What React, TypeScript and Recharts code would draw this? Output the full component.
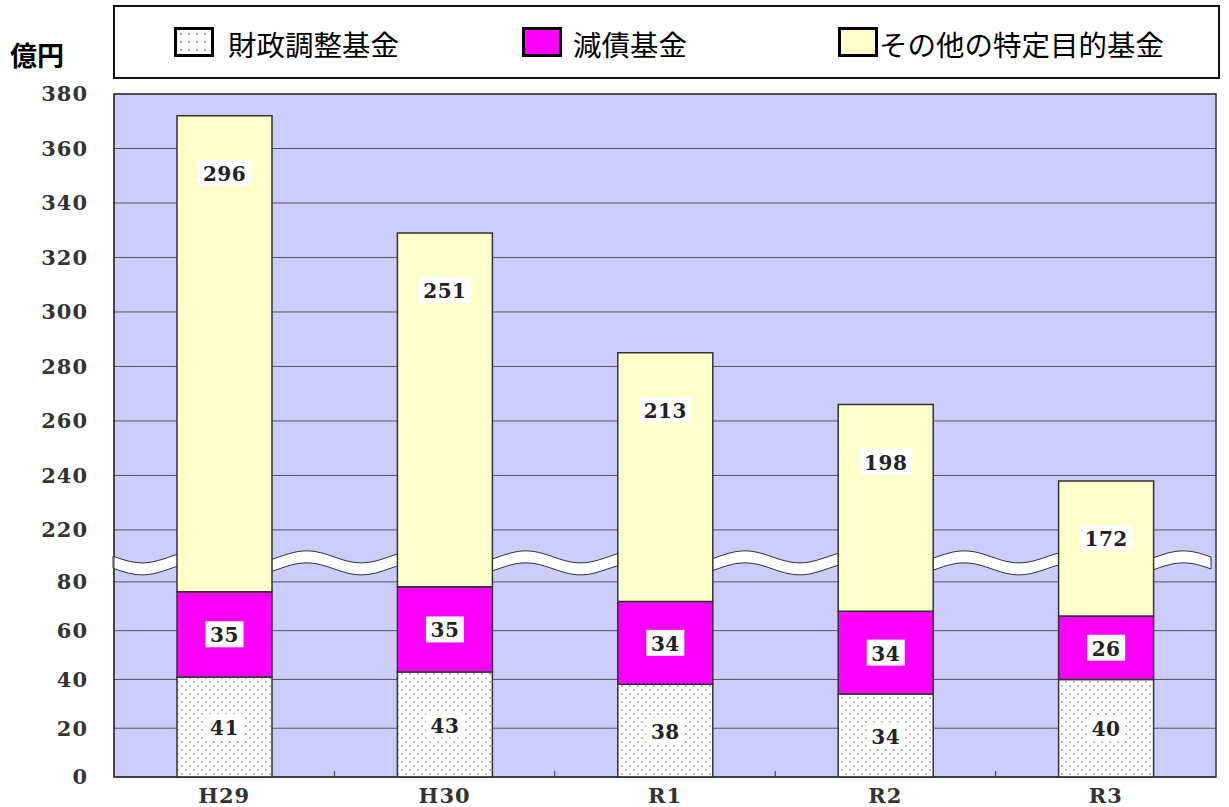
import React from 'react'
import { BarChart, Bar, XAxis, YAxis, CartesianGrid, LabelList, Customized } from 'recharts'

const categories = ['H29', 'H30', 'R1', 'R2', 'R3']
const zaiseiChosei = [41, 43, 38, 34, 40]
const gensai = [35, 35, 34, 34, 26]
const sonotaTokutei = [296, 251, 213, 198, 172]
const seriesNames = ['財政調整基金', '減債基金', 'その他の特定目的基金']
const yTickValues = [0, 20, 40, 60, 80, 220, 240, 260, 280, 300, 320, 340, 360, 380]
const unitLabel = '億円'

// broken axis: 0-80 below the wave, 220-380 above it (upper part drawn a bit taller)
const BREAK_LOW = 80
const BREAK_HIGH = 220
const BREAK_GAP = 21.3
const UPPER_RATIO = 1.117
const toAxis = (v: number) =>
  v <= BREAK_LOW ? v : BREAK_LOW + BREAK_GAP + (v - BREAK_HIGH) * UPPER_RATIO
const AXIS_MAX = toAxis(380)

const W = 1229
const H = 807
const PLOT_LEFT = 114
const PLOT_TOP = 94
const PLOT_RIGHT = 1216
const PLOT_BOTTOM = 777
const PLOT_W = PLOT_RIGHT - PLOT_LEFT
const PLOT_H = PLOT_BOTTOM - PLOT_TOP

const data = categories.map((name, i) => {
  const a = zaiseiChosei[i]
  const b = gensai[i]
  const total = a + b + sonotaTokutei[i]
  return {
    name,
    s1: toAxis(a),
    s2: toAxis(a + b) - toAxis(a),
    s3: toAxis(total) - toAxis(a + b),
    v1: a,
    v2: b,
    v3: sonotaTokutei[i],
  }
})

const numFont = '"DejaVu Serif", serif'
const jpFont = '"Noto Sans CJK JP", "Noto Sans", sans-serif'

const BoxLabel = (props: any) => {
  const { x, y, width, height, value, fromTop } = props
  if (x == null || value == null) return null
  const cx = Number(x) + Number(width) / 2
  const cy = fromTop ? Number(y) + 57 : Number(y) + Number(height) / 2
  const w = String(value).length * 15 + 8
  return (
    <g>
      <rect x={cx - w / 2} y={cy - 13} width={w} height={26} fill="#ffffff" />
      <text
        x={cx}
        y={cy + 1}
        textAnchor="middle"
        dominantBaseline="central"
        fontFamily={numFont}
        fontWeight="bold"
        fontSize={20}
        letterSpacing={0.5}
        fill="#222"
      >
        {value}
      </text>
    </g>
  )
}

const Decor = () => {
  const yOf = (v: number) => PLOT_TOP + PLOT_H * (1 - toAxis(v) / AXIS_MAX)
  const yc = yOf(BREAK_LOW) - 19
  const period = 109.6
  const amp = 6
  const top = (x: number) => yc - 6 - amp * Math.cos((2 * Math.PI * (x - 197)) / period)
  const xs: number[] = []
  for (let x = PLOT_LEFT - 1; x <= PLOT_RIGHT - 3; x += 3) xs.push(x)
  const upper = xs.map((x, i) => `${i === 0 ? 'M' : 'L'}${x},${top(x).toFixed(2)}`).join(' ')
  const lower = xs
    .slice()
    .reverse()
    .map((x) => `L${x},${(top(x) + 12).toFixed(2)}`)
    .join(' ')
  const ticks = [1, 2, 3, 4].map((k) => PLOT_LEFT + (k * PLOT_W) / 5)
  return (
    <g>
      <rect x={PLOT_LEFT} y={PLOT_TOP} width={PLOT_W} height={PLOT_H} fill="none" stroke="#333" strokeWidth={1.5} />
      {ticks.map((tx) => (
        <line key={tx} x1={tx} x2={tx} y1={PLOT_BOTTOM} y2={PLOT_BOTTOM - 6} stroke="#333" />
      ))}
      <path d={`${upper} ${lower} Z`} fill="#ffffff" stroke="#333" strokeWidth={1} />
    </g>
  )
}

const legendItems = [
  { left: 174, textLeft: 228, swatch: 'dots' },
  { left: 522, textLeft: 573, swatch: '#ff00ff' },
  { left: 838, textLeft: 879, swatch: '#ffffcc' },
]

const tickStyle = { fontFamily: numFont, fontWeight: 'bold', fontSize: 21, fill: '#333', letterSpacing: 1 }

export default function App() {
  return (
    <div style={{ position: 'absolute', left: 0, top: 0, width: W, height: H, background: '#fff' }}>
      <BarChart
        width={W}
        height={H}
        data={data}
        margin={{ top: PLOT_TOP, right: W - PLOT_RIGHT, bottom: 0, left: PLOT_LEFT - 60 }}
        barSize={95}
      >
        <defs>
          <pattern id="dots" width="8" height="8" patternUnits="userSpaceOnUse">
            <rect width="8" height="8" fill="#ffffff" />
            <circle cx="2" cy="2" r="0.9" fill="#9a9a9a" />
            <circle cx="6" cy="6" r="0.9" fill="#9a9a9a" />
          </pattern>
        </defs>
        <CartesianGrid vertical={false} stroke="#555" fill="#ccccff" fillOpacity={1} />
        <XAxis
          dataKey="name"
          height={H - PLOT_BOTTOM}
          tickLine={false}
          tickSize={0}
          tickMargin={11}
          axisLine={{ stroke: '#333' }}
          tick={tickStyle}
        />
        <YAxis
          type="number"
          width={60}
          domain={[0, AXIS_MAX]}
          ticks={yTickValues.map(toAxis)}
          interval={0}
          tickLine={false}
          tickSize={0}
          tickMargin={26}
          axisLine={{ stroke: '#333' }}
          tickFormatter={(v: number) => {
            const t = yTickValues.find((tv) => Math.abs(toAxis(tv) - v) < 1e-6)
            return t == null ? '' : String(t)
          }}
          tick={tickStyle}
        />
        <Bar dataKey="s1" stackId="a" fill="url(#dots)" stroke="#333" strokeWidth={1.5} isAnimationActive={false}>
          <LabelList dataKey="v1" content={(p: any) => <BoxLabel {...p} />} />
        </Bar>
        <Bar dataKey="s2" stackId="a" fill="#ff00ff" stroke="#333" strokeWidth={1.5} isAnimationActive={false}>
          <LabelList dataKey="v2" content={(p: any) => <BoxLabel {...p} />} />
        </Bar>
        <Bar dataKey="s3" stackId="a" fill="#ffffcc" stroke="#333" strokeWidth={1.5} isAnimationActive={false}>
          <LabelList dataKey="v3" content={(p: any) => <BoxLabel {...p} fromTop />} />
        </Bar>
        <Customized component={Decor} />
      </BarChart>

      <div
        style={{
          position: 'absolute',
          left: 10,
          top: 38,
          fontFamily: jpFont,
          fontWeight: 'bold',
          fontSize: 27,
          lineHeight: '34px',
          color: '#000',
        }}
      >
        {unitLabel}
      </div>

      <div
        style={{
          position: 'absolute',
          left: 113,
          top: 5,
          width: 1103,
          height: 70,
          border: '2px solid #111',
          background: '#fff',
        }}
      />
      {legendItems.map((it, i) => (
        <React.Fragment key={seriesNames[i]}>
          <div
            style={{
              position: 'absolute',
              left: it.left,
              top: 27,
              width: 34,
              height: 24,
              border: '3px solid #000',
              background:
                it.swatch === 'dots'
                  ? 'radial-gradient(circle, #aaa 1px, transparent 1.3px) 0 0 / 8px 8px, #fff'
                  : it.swatch,
            }}
          />
          <div
            style={{
              position: 'absolute',
              left: it.textLeft,
              top: 25,
              fontFamily: jpFont,
              fontSize: 28.5,
              lineHeight: '38px',
              color: '#000',
              whiteSpace: 'nowrap',
            }}
          >
            {seriesNames[i]}
          </div>
        </React.Fragment>
      ))}
    </div>
  )
}
